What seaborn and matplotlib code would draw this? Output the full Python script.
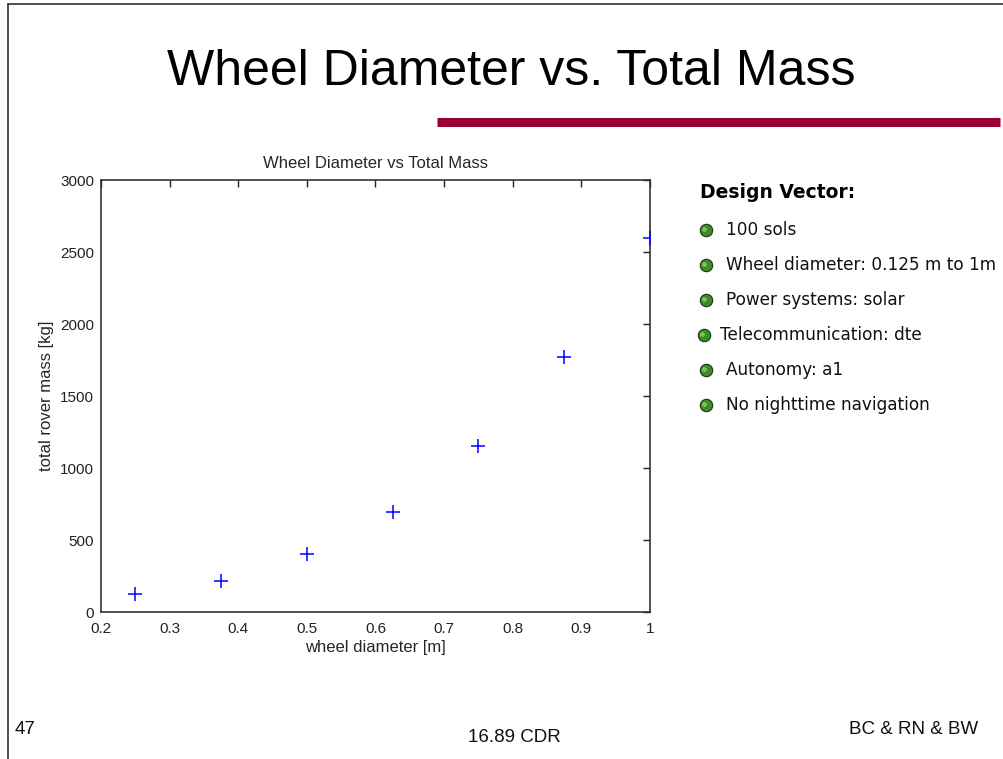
import numpy as np
import pandas as pd
import matplotlib.pyplot as plt
import seaborn as sns

# wheel diameter sweep and resulting rover mass
wheel_diameter = [0.25, 0.375, 0.5, 0.625, 0.75, 0.875, 1.0]
total_mass = [127, 217, 403, 697, 1150, 1771, 2597]

x_ticks = [0.2, 0.3, 0.4, 0.5, 0.6, 0.7, 0.8, 0.9, 1.0]
x_tick_labels = ['0.2', '0.3', '0.4', '0.5', '0.6', '0.7', '0.8', '0.9', '1']
y_ticks = [0, 500, 1000, 1500, 2000, 2500, 3000]

design_vector = ['100 sols',
                 'Wheel diameter: 0.125 m to 1m',
                 'Power systems: solar',
                 'Telecommunication: dte',
                 'Autonomy: a1',
                 'No nighttime navigation']

df = pd.DataFrame({'diameter': wheel_diameter, 'mass': total_mass})

sns.set_style('white')
plt.rcParams['font.family'] = ['Liberation Sans', 'DejaVu Sans']

W, H = 1004, 759
fig = plt.figure(figsize=(W / 100, H / 100), dpi=100)

# slide decoration layer in pixel coordinates
deco = fig.add_axes([0, 0, 1, 1])
deco.set_xlim(0, W)
deco.set_ylim(H, 0)
deco.axis('off')
deco.plot([8, W], [4, 4], color='#333333', lw=1.2)
deco.plot([8, 8], [4, H], color='#333333', lw=1.2)
deco.plot([437, 1000], [122, 122], color='#990033', lw=6.5, solid_capstyle='butt')

deco.text(511, 72, 'Wheel Diameter vs. Total Mass', fontsize=36,
          ha='center', va='center', color='black')

# design vector panel
deco.text(700, 193, 'Design Vector:', fontsize=13.5, fontweight='bold',
          ha='left', va='center', family=['DejaVu Sans'], color='black')
for i, item in enumerate(design_vector):
    yy = 230 + i * 35
    bx = 704 if item.startswith('Tele') else 706
    tx = 720 if item.startswith('Tele') else 726
    deco.scatter([bx], [yy], s=80, color='#3d8a26', edgecolor='#1a3a10',
                 linewidth=0.8, zorder=3)
    deco.scatter([bx - 1.5], [yy - 1.5], s=12, color='#7cc45a',
                 linewidth=0, zorder=4)
    deco.text(tx, yy, item, fontsize=12.2, ha='left', va='center',
              family=['DejaVu Sans'], color='#111111')

# footer
deco.text(15, 729, '47', fontsize=13.5, ha='left', va='center', color='#111111')
deco.text(514, 738, '16.89 CDR', fontsize=13.5, ha='center', va='center', color='#111111')
deco.text(978, 729, 'BC & RN & BW', fontsize=13.5, ha='right', va='center', color='#111111')

# main scatter plot
ax = fig.add_axes([101 / W, 1 - 612 / H, 549 / W, 432 / H])
sns.scatterplot(data=df, x='diameter', y='mass', marker='+', s=110,
                color='blue', linewidth=1.1, ax=ax, zorder=3)
ax.set_xlim(0.2, 1.0)
ax.set_ylim(0, 3000)
ax.set_xticks(x_ticks)
ax.set_xticklabels(x_tick_labels)
ax.set_yticks(y_ticks)
ax.tick_params(direction='in', length=5, width=1, top=True, right=True,
               labelsize=11, colors='#222222')
ax.tick_params(axis='x', pad=7)
ax.tick_params(axis='y', pad=5)
for s in ax.spines.values():
    s.set_color('#333333')
    s.set_linewidth(1.2)
ax.set_title('Wheel Diameter vs Total Mass', fontsize=12, pad=9)
ax.set_xlabel('wheel diameter [m]', fontsize=12, labelpad=3)
ax.set_ylabel('total rover mass [kg]', fontsize=12, labelpad=4)

plt.savefig('out.png', dpi=100)
plt.close()
